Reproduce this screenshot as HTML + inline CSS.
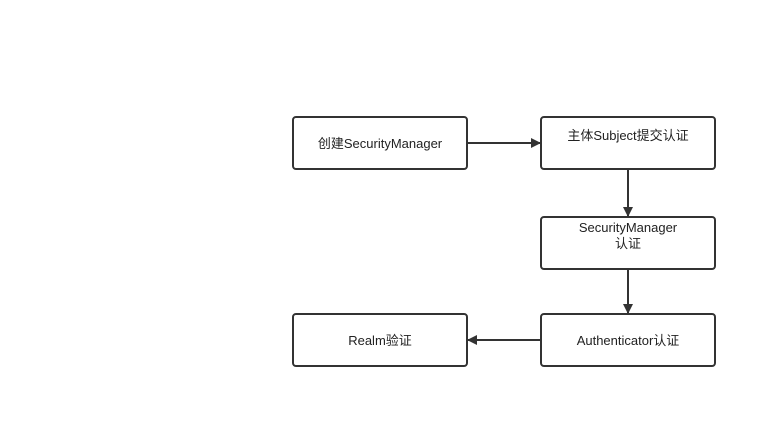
<!DOCTYPE html>
<html><head><meta charset="utf-8"><style>
html,body{margin:0;padding:0;background:#fff;}
svg text{font-family:"Liberation Sans","Noto Sans CJK SC",sans-serif;font-size:13px;fill:#222;}
</style></head><body>
<svg width="776" height="427" xmlns="http://www.w3.org/2000/svg">
<defs><marker id="a" markerWidth="10" markerHeight="10" refX="9" refY="5" orient="auto" markerUnits="userSpaceOnUse"><path d="M0,0 L10,5 L0,10 Z" fill="#333"/></marker></defs>
<g fill="#fff" stroke="#333" stroke-width="2">
<rect x="293" y="117" width="174" height="52" rx="3"/>
<rect x="541" y="117" width="174" height="52" rx="3"/>
<rect x="541" y="217" width="174" height="52" rx="3"/>
<rect x="541" y="314" width="174" height="52" rx="3"/>
<rect x="293" y="314" width="174" height="52" rx="3"/>
</g>
<g stroke="#333" stroke-width="2">
<line x1="467" y1="143" x2="540" y2="143" marker-end="url(#a)"/>
<line x1="628" y1="169" x2="628" y2="216" marker-end="url(#a)"/>
<line x1="628" y1="269" x2="628" y2="313" marker-end="url(#a)"/>
<line x1="541" y1="340" x2="468" y2="340" marker-end="url(#a)"/>
</g>
<g text-anchor="middle">
<text x="380" y="148">创建SecurityManager</text>
<text x="628" y="140">主体Subject提交认证</text>
<text x="628" y="232">SecurityManager</text>
<text x="628" y="248">认证</text>
<text x="628" y="345">Authenticator认证</text>
<text x="380" y="345">Realm验证</text>
</g>
</svg>
</body></html>
